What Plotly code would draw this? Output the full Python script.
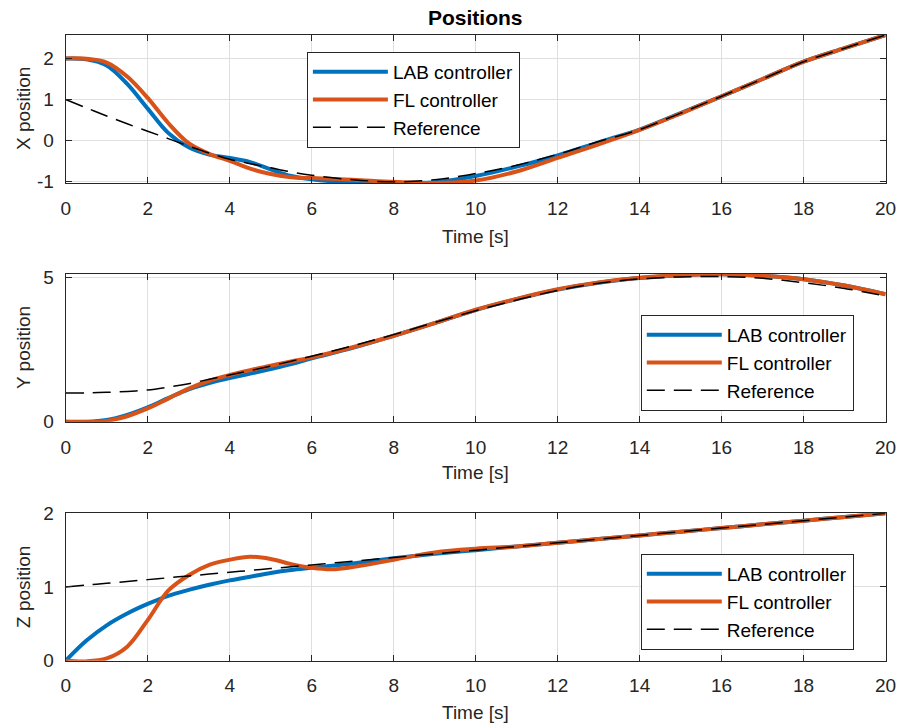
import plotly.graph_objects as go

# ---------------- data ----------------
t_xy = [0, 0.5, 1, 1.5, 2, 2.5, 3, 3.5, 4, 4.5, 5, 5.5, 6, 7, 8, 9, 10, 11, 12, 13, 14, 15, 16, 17, 18, 19, 20]

x_lab = [2.0, 1.98, 1.83, 1.38, 0.78, 0.19, -0.16, -0.34, -0.42, -0.52, -0.70, -0.86, -0.94, -1.02, -1.04, -1.01,
         -0.86, -0.63, -0.36, -0.04, 0.27, 0.67, 1.08, 1.50, 1.92, 2.25, 2.57]
x_fl = [2.0, 1.99, 1.90, 1.56, 1.04, 0.43, -0.06, -0.32, -0.49, -0.68, -0.81, -0.89, -0.91, -0.95, -1.00, -1.03,
        -0.97, -0.75, -0.42, -0.09, 0.26, 0.66, 1.08, 1.50, 1.92, 2.25, 2.57]
x_ref = [1.0, 0.80, 0.60, 0.41, 0.23, 0.05, -0.13, -0.30, -0.45, -0.56, -0.66, -0.76, -0.84, -0.95, -1.00, -0.95,
         -0.80, -0.60, -0.33, -0.02, 0.27, 0.67, 1.08, 1.50, 1.92, 2.25, 2.57]

y_lab = [0.0, 0.0, 0.06, 0.24, 0.50, 0.82, 1.12, 1.34, 1.51, 1.67, 1.83, 2.00, 2.20, 2.56, 2.98, 3.42,
         3.87, 4.25, 4.58, 4.82, 4.98, 5.08, 5.11, 5.06, 4.94, 4.72, 4.42]
y_fl = [0.0, -0.01, 0.03, 0.19, 0.46, 0.80, 1.15, 1.42, 1.62, 1.79, 1.94, 2.09, 2.23, 2.58, 2.98, 3.42,
        3.88, 4.26, 4.59, 4.83, 4.99, 5.08, 5.11, 5.06, 4.94, 4.72, 4.42]
y_ref = [1.0, 1.0, 1.02, 1.05, 1.10, 1.20, 1.32, 1.47, 1.62, 1.77, 1.93, 2.10, 2.27, 2.63, 3.02, 3.44,
         3.85, 4.22, 4.55, 4.80, 4.95, 5.02, 5.03, 4.97, 4.82, 4.62, 4.36]

t_z = [0, 0.5, 1, 1.5, 2, 2.5, 3, 3.5, 4, 4.5, 5, 5.5, 6, 6.5, 7, 8, 9, 10, 11, 12, 13, 14, 15, 16, 17, 18, 19, 20]
z_lab = [0.0, 0.27, 0.48, 0.64, 0.77, 0.88, 0.96, 1.03, 1.09, 1.14, 1.19, 1.23, 1.26, 1.29, 1.32, 1.39, 1.45,
         1.50, 1.55, 1.60, 1.65, 1.70, 1.75, 1.80, 1.85, 1.90, 1.95, 2.00]
z_fl = [0.0, -0.01, 0.03, 0.19, 0.55, 0.95, 1.16, 1.30, 1.37, 1.41, 1.38, 1.31, 1.26, 1.24, 1.27, 1.37, 1.47,
        1.52, 1.55, 1.60, 1.65, 1.70, 1.75, 1.80, 1.85, 1.90, 1.95, 2.00]
z_ref = [1.0, 1.025, 1.05, 1.075, 1.10, 1.125, 1.15, 1.175, 1.20, 1.225, 1.25, 1.275, 1.30, 1.325, 1.35, 1.40,
         1.45, 1.50, 1.55, 1.60, 1.65, 1.70, 1.75, 1.80, 1.85, 1.90, 1.95, 2.00]

x_ticks = [0, 2, 4, 6, 8, 10, 12, 14, 16, 18, 20]
names = ["LAB controller", "FL controller", "Reference"]

# ---------------- styles ----------------
BLUE = "#0072BD"
ORANGE = "#D95319"
AX = "#262626"
GRID = "#dfdfdf"
FONT = "Liberation Sans, Arial, sans-serif"
FS = 19

fig = go.Figure()

panels = [
    (t_xy, x_lab, x_fl, x_ref, "x", "y", "legend"),
    (t_xy, y_lab, y_fl, y_ref, "x2", "y2", "legend2"),
    (t_z, z_lab, z_fl, z_ref, "x3", "y3", "legend3"),
]
for t, lab, fl, ref, xa, ya, lg in panels:
    fig.add_trace(go.Scatter(x=t, y=lab, name=names[0], mode="lines", xaxis=xa, yaxis=ya, legend=lg,
                             line=dict(color=BLUE, width=4, shape="spline", smoothing=1.0)))
    fig.add_trace(go.Scatter(x=t, y=fl, name=names[1], mode="lines", xaxis=xa, yaxis=ya, legend=lg,
                             line=dict(color=ORANGE, width=4, shape="spline", smoothing=1.0)))
    fig.add_trace(go.Scatter(x=t, y=ref, name=names[2], mode="lines", xaxis=xa, yaxis=ya, legend=lg,
                             line=dict(color="black", width=1.5, dash="18px,9px", shape="spline", smoothing=1.0)))

xdom = [0.073, 0.984]
ydoms = [[0.7486, 0.9519], [0.4207, 0.6236], [0.0925, 0.2949]]
yranges = [[-1.03, 2.57], [0, 5.12], [0, 2]]
yticks = [([-1, 0, 1, 2], ["-1", "0", "1", "2"]), ([0, 5], ["0", "5"]), ([0, 1, 2], ["0", "1", "2"])]

common = dict(showline=True, linecolor=AX, linewidth=1, mirror="ticks", ticks="inside", ticklen=6,
              tickcolor=AX, showgrid=True, gridcolor=GRID, gridwidth=1, zeroline=False, automargin=False,
              tickfont=dict(family=FONT, size=FS, color=AX))

for i in range(3):
    sfx = "" if i == 0 else str(i + 1)
    fig.layout["xaxis" + sfx] = dict(common, domain=xdom, range=[0, 20], tickvals=x_ticks,
                                     anchor="y" + sfx, ticklabelstandoff=8)
    fig.layout["yaxis" + sfx] = dict(common, domain=ydoms[i], range=yranges[i], tickvals=yticks[i][0],
                                     ticktext=yticks[i][1], anchor="x" + sfx, ticklabelstandoff=7)

leg_common = dict(bgcolor="white", bordercolor=AX, borderwidth=1, font=dict(family=FONT, size=FS, color="black"),
                  xanchor="left", yanchor="top", itemwidth=75, tracegroupgap=0)
fig.update_layout(
    legend=dict(leg_common, x=0.341, y=0.9286),
    legend2=dict(leg_common, x=0.712, y=0.5673),
    legend3=dict(leg_common, x=0.712, y=0.239),
)

ann = [dict(text="<b>Positions</b>", x=0.528, y=1 - 17 / 728, font=dict(size=21, color="black", family=FONT))]
for yc in [237, 472, 712]:
    ann.append(dict(text="Time [s]", x=476 / 900, y=1 - yc / 728, font=dict(size=FS, color=AX, family=FONT)))
for lbl, yc in [("X position", 109), ("Y position", 348), ("Z position", 587)]:
    ann.append(dict(text=lbl, x=23 / 900, y=1 - yc / 728, textangle=-90, font=dict(size=FS, color=AX, family=FONT)))
for a in ann:
    a.update(xref="paper", yref="paper", showarrow=False, xanchor="center", yanchor="middle")

fig.update_layout(annotations=ann, width=900, height=728, margin=dict(l=0, r=0, t=0, b=0, pad=0, autoexpand=False),
                  plot_bgcolor="white", paper_bgcolor="white", showlegend=True)

fig.write_html("out.html")
